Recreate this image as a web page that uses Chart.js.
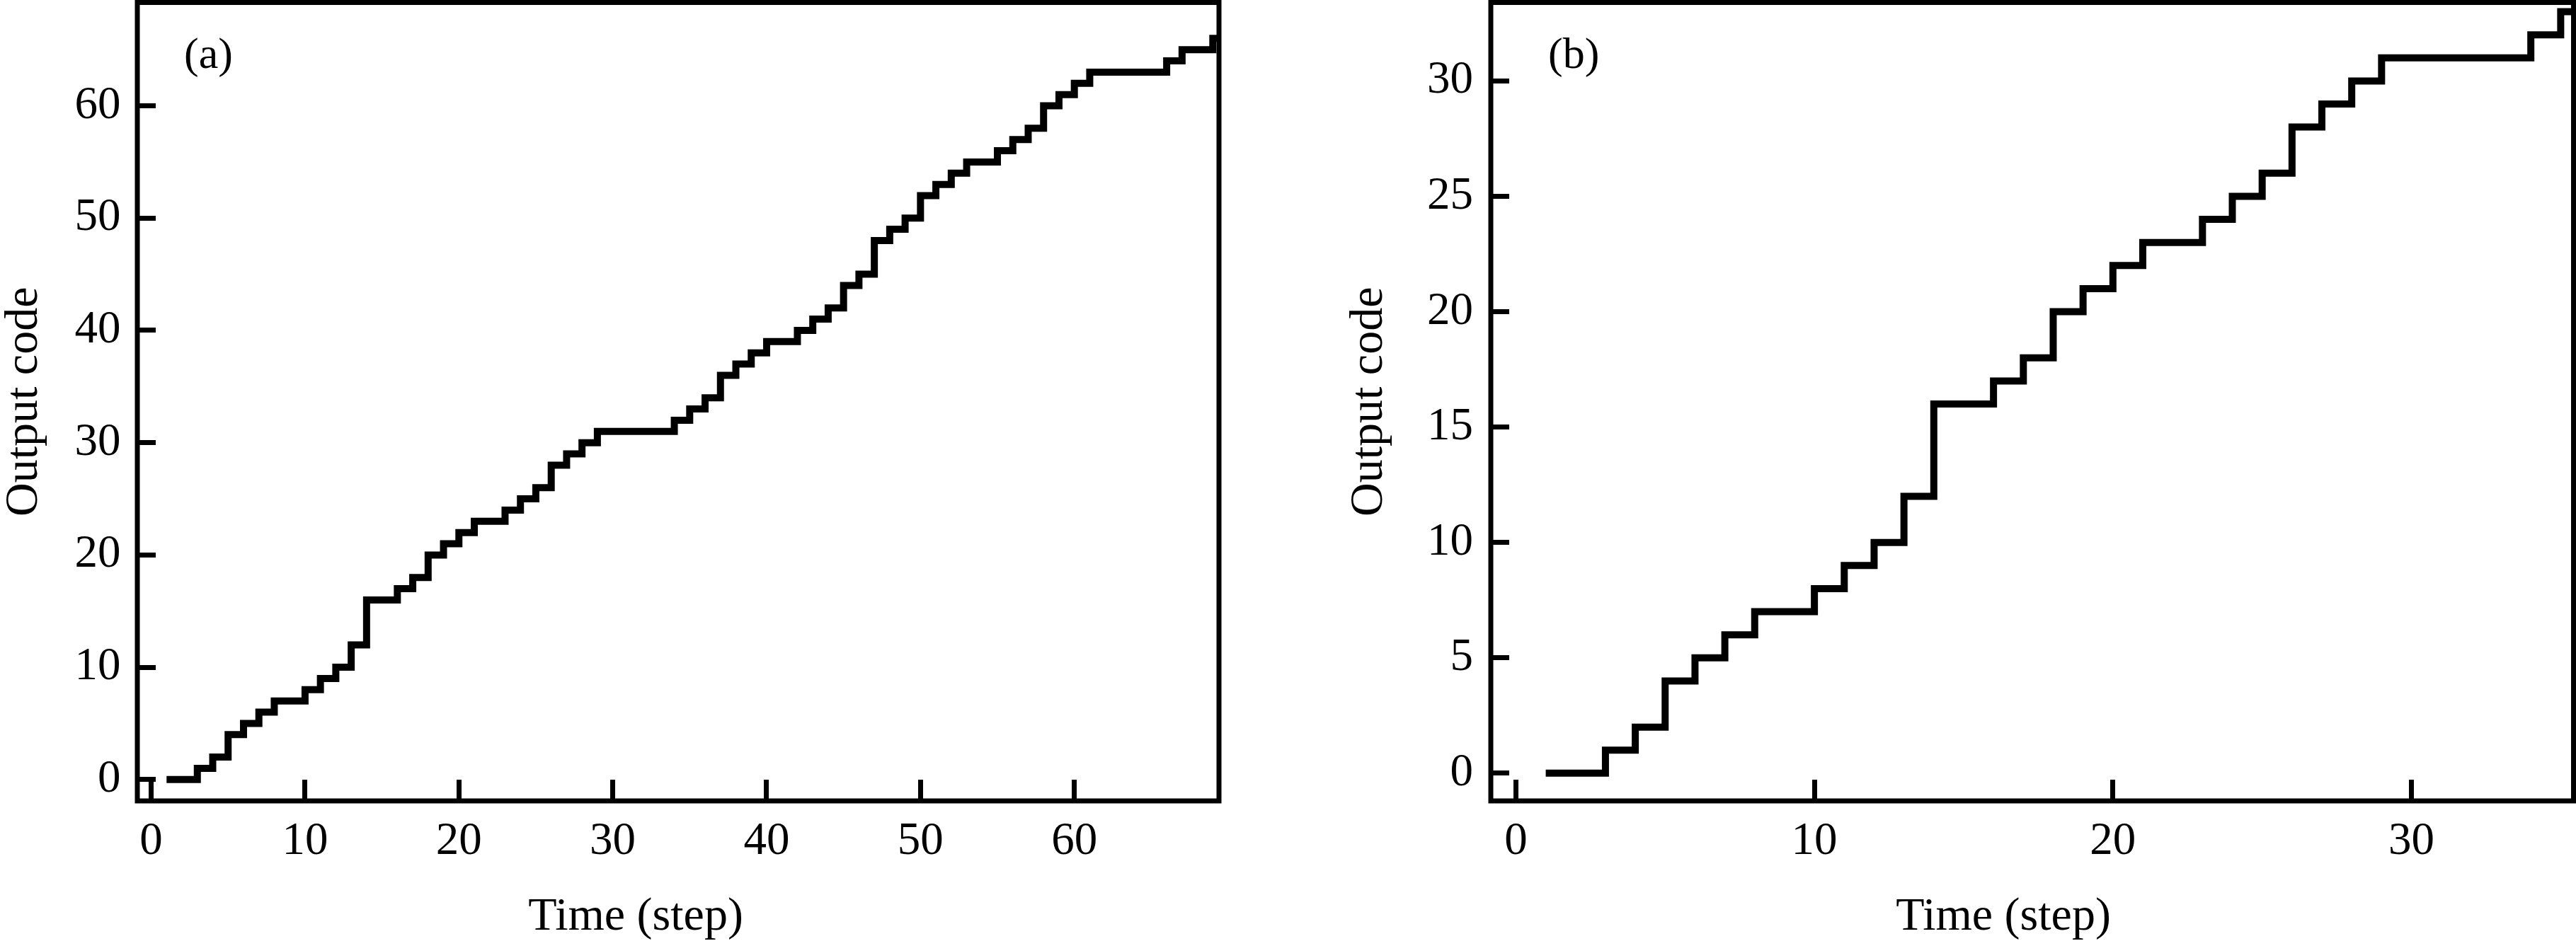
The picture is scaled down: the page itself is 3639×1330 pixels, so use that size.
<!DOCTYPE html>
<html lang="en">
<head>
<meta charset="utf-8" />
<title>Output code</title>
<script src="https://cdn.jsdelivr.net/npm/chart.js@4.4.1/dist/chart.umd.min.js"></script>
<style>
  html, body { margin: 0; padding: 0; background: #ffffff; }
  body { position: relative; width: 3639px; height: 1330px; overflow: hidden; }
  .panel { position: absolute; top: 0; height: 1330px; }
  #panel-a { left: 0; width: 1800px; }
  #panel-b { left: 1900px; width: 1739px; }
</style>
</head>
<body>
<div class="panel" id="panel-a"><canvas id="chart-a"></canvas></div>
<div class="panel" id="panel-b"><canvas id="chart-b"></canvas></div>
<script>
// (a) long run
const timeA = [
  1, 2, 3, 4, 5, 6, 7, 8, 9, 10, 11, 12, 13, 14, 15, 16, 17, 18, 19, 20,
  21, 22, 23, 24, 25, 26, 27, 28, 29, 30, 31, 32, 33, 34, 35, 36, 37, 38, 39, 40,
  41, 42, 43, 44, 45, 46, 47, 48, 49, 50, 51, 52, 53, 54, 55, 56, 57, 58, 59, 60,
  61, 62, 63, 64, 65, 66, 67, 68, 69, 70,
];
const codeA = [
  0, 0, 1, 2, 4, 5, 6, 7, 7, 8,
  9, 10, 12, 16, 16, 17, 18, 20, 21, 22,
  23, 23, 24, 25, 26, 28, 29, 30, 31, 31,
  31, 31, 31, 32, 33, 34, 36, 37, 38, 39,
  39, 40, 41, 42, 44, 45, 48, 49, 50, 52,
  53, 54, 55, 55, 56, 57, 58, 60, 61, 62,
  63, 63, 63, 63, 63, 64, 65, 65, 66, 66,
];
const xTicksA = [0, 10, 20, 30, 40, 50, 60];
const yTicksA = [0, 10, 20, 30, 40, 50, 60];

// (b) short run
const timeB = [
  1, 2, 3, 4, 5, 6, 7, 8, 9, 10, 11, 12, 13, 14, 15, 16, 17, 18,
  19, 20, 21, 22, 23, 24, 25, 26, 27, 28, 29, 30, 31, 32, 33, 34, 35, 36,
];
const codeB = [
  0, 0, 1, 2, 4, 5, 6, 7, 7, 8,
  9, 10, 12, 16, 16, 17, 18, 20, 21, 22,
  23, 23, 24, 25, 26, 28, 29, 30, 31, 31,
  31, 31, 31, 32, 33, 33,
];
const xTicksB = [0, 10, 20, 30];
const yTicksB = [0, 5, 10, 15, 20, 25, 30];

Chart.defaults.font.family = "'Liberation Serif', 'Times New Roman', serif";
Chart.defaults.color = "#000";

// frame round the plot area + panel letter + x title
const panelText = {
  id: "panelText",
  afterDraw(chart, args, opts) {
    const { ctx, chartArea: a } = chart;
    ctx.save();
    ctx.strokeStyle = "#000";
    ctx.lineWidth = 7;
    ctx.strokeRect(a.left, a.top, a.right - a.left, a.bottom - a.top);

    ctx.fillStyle = "#000";
    ctx.textBaseline = "alphabetic";
    ctx.textAlign = "left";
    ctx.font = "62px 'Liberation Serif'";
    ctx.fillText(opts.label, opts.labelX, opts.labelY);

    ctx.textAlign = "center";
    ctx.font = "66px 'Liberation Serif'";
    ctx.fillText(opts.xTitle, opts.xTitleX, opts.xTitleY);
    ctx.restore();
  },
};

function buildChart(canvasId, time, code, xTicks, yTicks, box) {
  const points = time.map((t, i) => ({ x: t, y: code[i] }));

  return new Chart(document.getElementById(canvasId), {
    type: "line",
    data: {
      datasets: [
        {
          data: points,
          stepped: true,
          borderColor: "#000",
          borderWidth: 10,
          borderJoinStyle: "miter",
          borderCapStyle: "butt",
          pointRadius: 0,
          fill: false,
          clip: 0,
        },
      ],
    },
    options: {
      responsive: true,
      maintainAspectRatio: false,
      animation: false,
      devicePixelRatio: 1,
      events: [],
      layout: {
        autoPadding: false,
        padding: { left: 0, top: 3.5, right: box.padRight, bottom: 0 },
      },
      plugins: {
        legend: { display: false },
        tooltip: { enabled: false },
        panelText: {
          label: box.label,
          labelX: box.labelX,
          labelY: 96,
          xTitle: "Time (step)",
          xTitleX: box.xTitleX,
          xTitleY: 1314,
        },
      },
      scales: {
        x: {
          type: "linear",
          min: box.xMin,
          max: box.xMax,
          afterBuildTicks: (s) => {
            s.ticks = xTicks.map((v) => ({ value: v }));
          },
          afterFit: (s) => {
            s.height = 198;
            s.paddingLeft = 0;
            s.paddingRight = 0;
          },
          border: { display: false },
          grid: {
            drawOnChartArea: false,
            drawTicks: true,
            tickLength: -30,
            tickWidth: 7,
            lineWidth: 7,
            color: "#000",
            tickColor: "#000",
          },
          ticks: { padding: 49, maxRotation: 0, autoSkip: false, font: { size: 65 } },
        },
        y: {
          type: "linear",
          min: box.yMin,
          max: box.yMax,
          afterBuildTicks: (s) => {
            s.ticks = yTicks.map((v) => ({ value: v }));
          },
          afterFit: (s) => {
            s.width = box.yAxisWidth;
            s.paddingTop = 0;
            s.paddingBottom = 0;
          },
          border: { display: false },
          grid: {
            drawOnChartArea: false,
            drawTicks: true,
            tickLength: -26,
            tickWidth: 7,
            lineWidth: 7,
            color: "#000",
            tickColor: "#000",
          },
          ticks: { padding: box.yTickPad, autoSkip: false, font: { size: 65 } },
          title: {
            display: true,
            text: "Output code",
            font: { size: 66, lineHeight: 1 },
            padding: { top: 2, bottom: 0 },
          },
        },
      },
    },
    plugins: [panelText],
  });
}

const chartA = buildChart("chart-a", timeA, codeA, xTicksA, yTicksA, {
  xMin: -0.9,
  xMax: 69.4,
  yMin: -1.9,
  yMax: 69.2,
  yAxisWidth: 194,
  padRight: 78,
  yTickPad: 49.5,
  label: "(a)",
  labelX: 260,
  xTitleX: 898,
});

const chartB = buildChart("chart-b", timeB, codeB, xTicksB, yTicksB, {
  xMin: -0.84,
  xMax: 35.43,
  yMin: -1.2,
  yMax: 33.4,
  yAxisWidth: 206,
  padRight: 3.5,
  yTickPad: 51,
  label: "(b)",
  labelX: 287,
  xTitleX: 930,
});
</script>
</body>
</html>
